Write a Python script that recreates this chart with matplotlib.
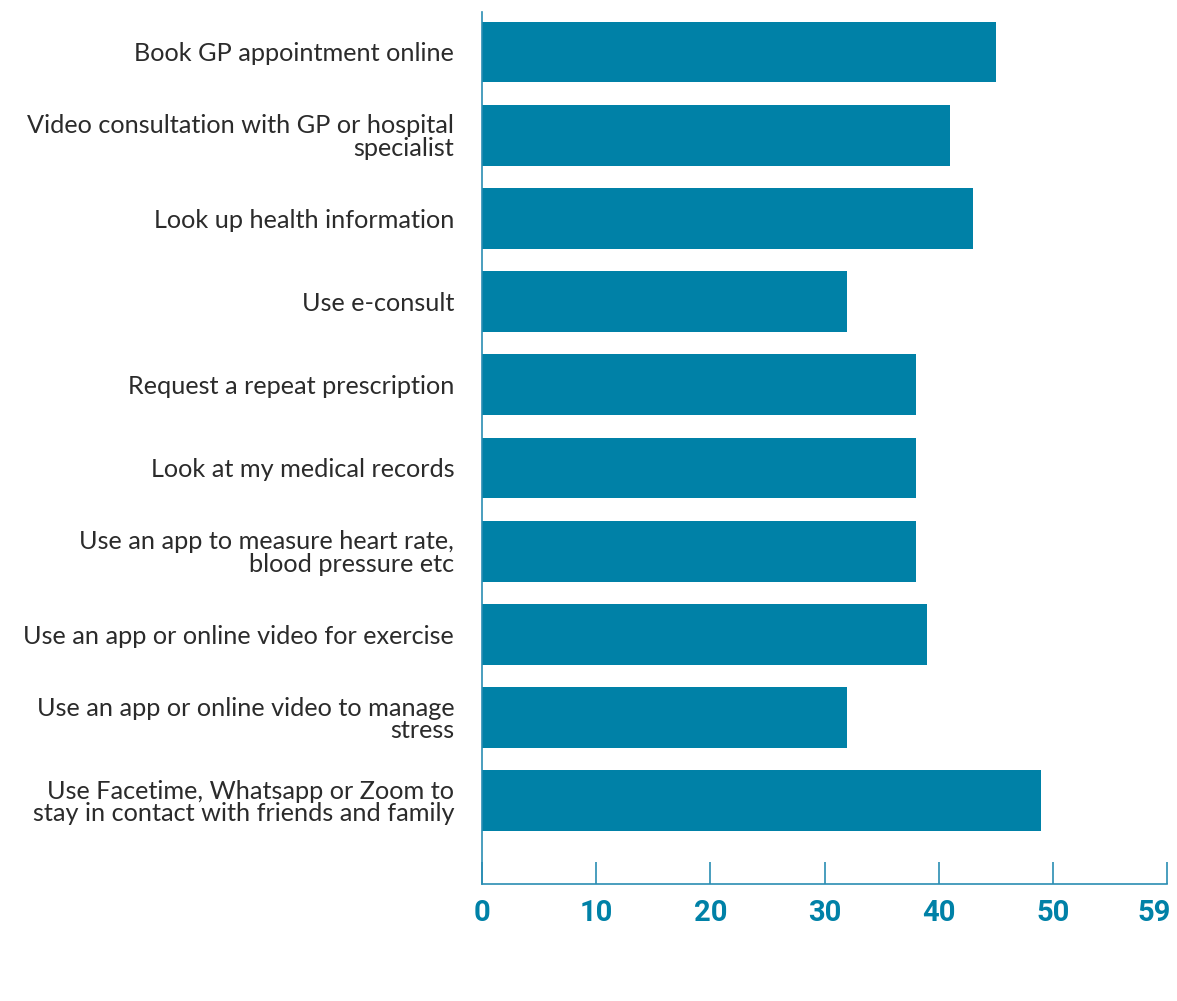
import matplotlib
matplotlib.use("Agg")
import matplotlib.pyplot as plt
from matplotlib.transforms import ScaledTranslation

# Activities and share of respondents (%)
categories = [
    "Book GP appointment online",
    "Video consultation with GP or hospital\nspecialist",
    "Look up health information",
    "Use e-consult",
    "Request a repeat prescription",
    "Look at my medical records",
    "Use an app to measure heart rate,\nblood pressure etc",
    "Use an app or online video for exercise",
    "Use an app or online video to manage\nstress",
    "Use Facetime, Whatsapp or Zoom to\nstay in contact with friends and family",
]
values = [45, 41, 43, 32, 38, 38, 38, 39, 32, 49]
tick_positions = [0, 10, 20, 30, 40, 50, 60]
tick_labels = ["0", "10", "20", "30", "40", "50", "59"]

BAR = "#0081a7"
AXIS = "#2a8db3"

fig = plt.figure(figsize=(11.77, 10.01), dpi=100)
ax = fig.add_axes([482 / 1177, 1 - 884 / 1001, (1167 - 482) / 1177, (884 - 12) / 1001])

ypos = list(range(len(categories)))
ax.barh(ypos, values, height=0.73, color=BAR)

ax.set_xlim(0, 60)
ax.set_ylim(10.0, -0.48)
ax.set_xticks(tick_positions)
ax.set_xticklabels(tick_labels, fontsize=21, fontweight="bold", color=BAR,
                   family=["Roboto", "DejaVu Sans"])
ax.set_yticks(ypos)
ax.set_yticklabels(categories, fontsize=18.2, color="#2b2b2b",
                   family=["Lato", "DejaVu Sans"], fontweight="normal",
                   linespacing=0.98)

ax.tick_params(axis="x", direction="in", length=16, width=1.2, color=AXIS, pad=11)
ax.tick_params(axis="y", length=0, pad=20)

# last label sits a little left of its tick so it stays inside the figure
last = ax.get_xticklabels()[-1]
last.set_transform(last.get_transform() + ScaledTranslation(-9 / 72, 0, fig.dpi_scale_trans))

for side in ("top", "right"):
    ax.spines[side].set_visible(False)
for side in ("left", "bottom"):
    ax.spines[side].set_color(AXIS)
    ax.spines[side].set_linewidth(1.2)

fig.savefig("out.png", dpi=100)
